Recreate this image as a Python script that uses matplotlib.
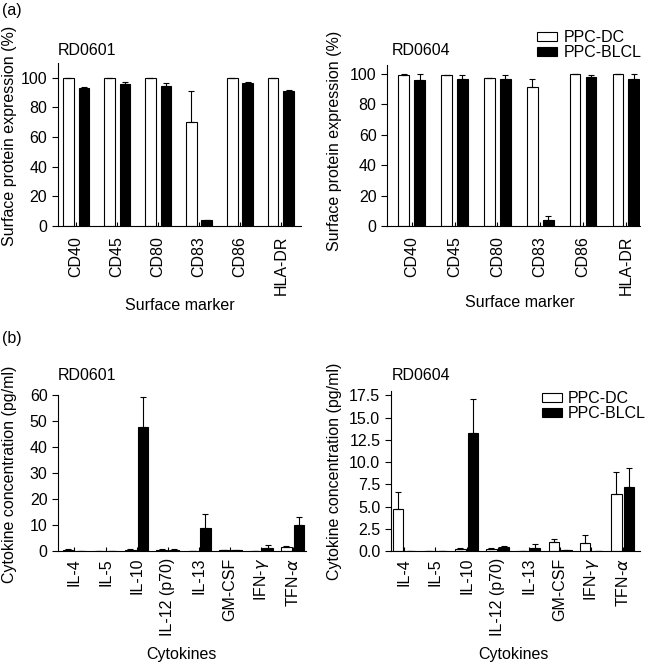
import numpy as np
import matplotlib
matplotlib.use("Agg")
import matplotlib.pyplot as plt

plt.rcParams['font.family'] = ['Liberation Sans', 'DejaVu Sans']
plt.rcParams['font.size'] = 11.5

# --- data ---
markers = ['CD40', 'CD45', 'CD80', 'CD83', 'CD86', 'HLA-DR']
cytokines = ['IL-4', 'IL-5', 'IL-10', 'IL-12 (p70)', 'IL-13', 'GM-CSF',
             'IFN-$\\gamma$', 'TFN-$\\alpha$']

# surface markers, RD0601
a1_dc = [99.8, 99.8, 99.8, 70.5, 99.8, 99.8]
a1_dc_err = [0.3, 0.3, 0.3, 20.5, 0.3, 0.3]
a1_blcl = [93.2, 95.6, 94.8, 3.8, 96.7, 90.8]
a1_blcl_err = [0.5, 1.7, 1.6, 0.4, 0.5, 1.2]

# surface markers, RD0604
a2_dc = [99.6, 99.1, 97.3, 91.2, 99.9, 99.8]
a2_dc_err = [0.3, 0.3, 0.3, 5.5, 0.3, 0.3]
a2_blcl = [96.4, 96.6, 97.1, 3.8, 98.0, 96.6]
a2_blcl_err = [3.5, 2.6, 2.5, 2.8, 1.3, 3.3]

# cytokines, RD0601
b1_dc = [0.5, 0.0, 0.5, 0.5, 0.0, 0.3, 0.0, 1.6]
b1_dc_err = [0.2, 0.0, 0.2, 0.2, 0.0, 0.1, 0.0, 0.4]
b1_blcl = [0.0, 0.0, 47.6, 0.5, 8.7, 0.3, 1.3, 10.0]
b1_blcl_err = [0.0, 0.0, 11.7, 0.1, 5.5, 0.1, 1.0, 3.1]

# cytokines, RD0604
b2_dc = [4.7, 0.0, 0.22, 0.22, 0.0, 0.97, 0.86, 6.44]
b2_dc_err = [1.9, 0.0, 0.08, 0.1, 0.0, 0.38, 0.97, 2.44]
b2_blcl = [0.0, 0.0, 13.3, 0.41, 0.34, 0.08, 0.0, 7.19]
b2_blcl_err = [0.0, 0.0, 3.85, 0.12, 0.45, 0.03, 0.0, 2.14]

W, H = 649, 663
fig = plt.figure(figsize=(W / 100, H / 100), dpi=100)


def px_axes(x0, y0, x1, y1):
    # pixel box (from top-left) -> figure axes
    return fig.add_axes([x0 / W, 1 - y1 / H, (x1 - x0) / W, (y1 - y0) / H])


def draw(ax, labels, dc, dc_err, blcl, blcl_err, width, off, xlim, ylim,
         yticks, title, tpos, xlabel, xlab_pos, ylabel, ylab_pos, pad, fmt=None):
    x = np.arange(len(labels))
    z = np.zeros(len(labels))
    ekw = dict(elinewidth=0.8, capthick=0.8, ecolor='black')
    b1 = ax.bar(x - off, dc, width, color='white', edgecolor='black', linewidth=0.8,
                yerr=[z, dc_err], capsize=2.5, error_kw=ekw, label='PPC-DC')
    b2 = ax.bar(x + off, blcl, width, color='black', edgecolor='black', linewidth=0.8,
                yerr=[z, blcl_err], capsize=2.5, error_kw=ekw, label='PPC-BLCL')
    ax.set_xlim(*xlim)
    ax.set_ylim(*ylim)
    ax.set_yticks(yticks)
    if fmt:
        ax.set_yticklabels([fmt % v for v in yticks])
    ax.set_xticks(x)
    ax.set_xticklabels(labels, rotation=90, va='top')
    ax.tick_params(axis='x', direction='in', length=3, width=0.8, pad=pad)
    ax.tick_params(axis='y', direction='out', length=4.5, width=0.8, pad=3)
    for s in ['top', 'right']:
        ax.spines[s].set_visible(False)
    for s in ['left', 'bottom']:
        ax.spines[s].set_linewidth(0.8)
    ax.text(tpos[0], tpos[1], title, transform=ax.transAxes, va='baseline', ha='left')
    ax.set_xlabel(xlabel)
    ax.xaxis.set_label_coords(*xlab_pos)
    ax.set_ylabel(ylabel)
    ax.yaxis.set_label_coords(*ylab_pos)
    return b1, b2


def legend(h, x, y):
    fig.legend(h, ['PPC-DC', 'PPC-BLCL'], loc='upper left', bbox_to_anchor=(x / W, 1 - y / H),
               frameon=False, borderpad=0, borderaxespad=0, handlelength=1.25,
               handleheight=0.5, handletextpad=0.4, labelspacing=0.0)


x0 = 57.5
ax1 = px_axes(x0, 63, 301, 226)
draw(ax1, markers, a1_dc, a1_dc_err, a1_blcl, a1_blcl_err, 0.26, 0.19,
     (-0.455, 5.49), (0, 110), range(0, 101, 20), 'RD0601', (0.0, 1.05),
     'Surface marker', ((180 - x0) / (301 - x0), -0.44), 'Surface protein expression (%)',
     ((17 - x0) / (301 - x0), 0.55), 7)

x0 = 387
ax2 = px_axes(x0, 65, 640, 226)
h = draw(ax2, markers, a2_dc, a2_dc_err, a2_blcl, a2_blcl_err, 0.25, 0.186,
         (-0.576, 5.33), (0, 106), range(0, 101, 20), 'RD0604', (0.018, 1.062),
         'Surface marker', ((520 - x0) / (640 - x0), -0.43), 'Surface protein expression (%)',
         ((342 - x0) / (640 - x0), 0.53), 7)
legend(h, 537, 30)

x0 = 58
ax3 = px_axes(x0, 395, 306, 551)
draw(ax3, cytokines, b1_dc, b1_dc_err, b1_blcl, b1_blcl_err, 0.335, 0.2,
     (-0.525, 7.43), (0, 60), range(0, 61, 10), 'RD0601', (0.0, 1.096),
     'Cytokines', ((181.7 - x0) / (306 - x0), -0.613), 'Cytokine concentration (pg/ml)',
     ((17 - x0) / (306 - x0), 0.49), 5)

x0 = 390.7
ax4 = px_axes(x0, 391, 640, 551)
h = draw(ax4, cytokines, b2_dc, b2_dc_err, b2_blcl, b2_blcl_err, 0.335, 0.2,
         (-0.43, 7.56), (0, 18), np.arange(0, 17.6, 2.5), 'RD0604', (0.004, 1.07),
         'Cytokines', ((513 - x0) / (640 - x0), -0.6), 'Cytokine concentration (pg/ml)',
         ((342 - x0) / (640 - x0), 0.5), 5, fmt='%.1f')
legend(h, 541.7, 391)

fig.text(2 / W, 1 - 3 / H, '(a)', va='top', ha='left')
fig.text(2 / W, 1 - 331 / H, '(b)', va='top', ha='left')

fig.savefig('out.png', dpi=100)
